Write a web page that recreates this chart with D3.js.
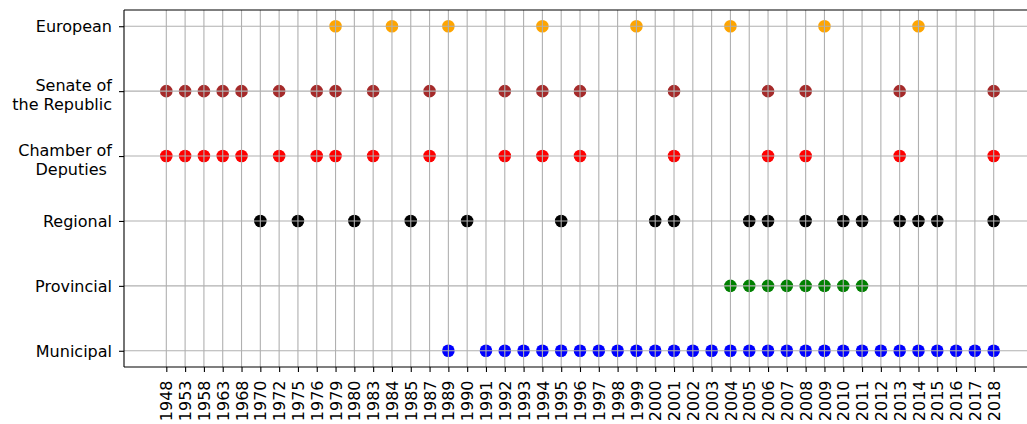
<!DOCTYPE html>
<html>
<head>
<meta charset="utf-8">
<script src="https://cdn.jsdelivr.net/npm/d3@7"></script>
<style>
  body { margin: 0; background: #fff; }
  text { font-family: "DejaVu Sans", sans-serif; font-size: 16px; fill: #000; }
</style>
</head>
<body>
<script>
// Ticks of the x axis (one category per election year)
var years = ["1948", "1953", "1958", "1963", "1968", "1970", "1972", "1975", "1976", "1979",
             "1980", "1983", "1984", "1985", "1987", "1989", "1990", "1991", "1992", "1993",
             "1994", "1995", "1996", "1997", "1998", "1999", "2000", "2001", "2002", "2003",
             "2004", "2005", "2006", "2007", "2008", "2009", "2010", "2011", "2012", "2013",
             "2014", "2015", "2016", "2017", "2018"]

// Rows, bottom to top
var tipos = ["Municipal", "Provincial", "Regional", "Chamber of\nDeputies\u00a0", "Senate of\nthe Republic", "European"]

// Years of each type of election
var municipal = ["1989", "1991", "1992", "1993", "1994", "1995", "1996", "1997", "1998", "1999",
                 "2000", "2001", "2002", "2003", "2004", "2005", "2006", "2007", "2008", "2009",
                 "2010", "2011", "2012", "2013", "2014", "2015", "2016", "2017", "2018"]
var provincial = ["2004", "2005", "2006", "2007", "2008", "2009", "2010", "2011"]
var regional = ["1970", "1975", "1980", "1985", "1990", "1995", "2000", "2001", "2005", "2006",
                "2008", "2010", "2011", "2013", "2014", "2015", "2018"]
var camera = ["1948", "1953", "1958", "1963", "1968", "1972", "1976", "1979", "1983", "1987",
              "1992", "1994", "1996", "2001", "2006", "2008", "2013", "2018"]
var senado = ["1948", "1953", "1958", "1963", "1968", "1972", "1976", "1979", "1983", "1987",
              "1992", "1994", "1996", "2001", "2006", "2008", "2013", "2018"]
var europeas = ["1979", "1984", "1989", "1994", "1999", "2004", "2009", "2014"]

var series = [municipal, provincial, regional, camera, senado, europeas]
var colores = ["blue", "green", "black", "red", "brown", "orange"]

//Dimensiones
var width = 1027
var height = 424
var margin = { top: 10, bottom: 57, left: 124, right: -9 }

var svg = d3.select("body").append("svg")
    .attr("width", width)
    .attr("height", height)

//Escalas
var escalaX = d3.scalePoint()
    .domain(years)
    .range([margin.left, width - margin.right])
    .padding(2.25)

var escalaY = d3.scalePoint()
    .domain(tipos)
    .range([height - margin.bottom, margin.top])
    .padding(0.25)

//Puntos
var puntos = []
series.forEach(function (s, i) {
    s.forEach(function (y) { puntos.push({ year: y, tipo: tipos[i], color: colores[i] }) })
})

svg.append("g").selectAll("circle")
    .data(puntos)
    .enter()
    .append("circle")
    .attr("cx", d => escalaX(d.year))
    .attr("cy", d => escalaY(d.tipo))
    .attr("r", 6.3)
    .attr("fill", d => d.color)

//Rejilla (por encima de los puntos)
var rejilla = svg.append("g").attr("stroke", "#b0b0b0").attr("stroke-width", 1.1)
rejilla.selectAll(".gx")
    .data(years)
    .enter()
    .append("line")
    .attr("x1", d => escalaX(d)).attr("x2", d => escalaX(d))
    .attr("y1", margin.top).attr("y2", height - margin.bottom)
rejilla.selectAll(".gy")
    .data(tipos)
    .enter()
    .append("line")
    .attr("x1", margin.left).attr("x2", width)
    .attr("y1", d => escalaY(d)).attr("y2", d => escalaY(d))

//Eje X
var ejeX = svg.append("g")
    .attr("transform", "translate(0," + (height - margin.bottom) + ")")
    .call(d3.axisBottom(escalaX).tickSizeInner(5).tickSizeOuter(0).tickPadding(7))
ejeX.select(".domain").remove()
ejeX.selectAll("line").attr("stroke-width", 1.1)
ejeX.selectAll("text")
    .attr("transform", "rotate(-90)")
    .attr("x", -13.5)
    .attr("y", 0)
    .attr("dy", "0.35em")
    .attr("text-anchor", "end")
    .style("font-size", "16px")
    .style("font-family", "DejaVu Sans")

//Eje Y
var ejeY = svg.append("g")
    .attr("transform", "translate(" + margin.left + ",0)")
    .call(d3.axisLeft(escalaY).tickSizeInner(5).tickSizeOuter(0).tickPadding(7).tickFormat(""))
ejeY.select(".domain").remove()
ejeY.selectAll("line").attr("stroke-width", 1.1)
ejeY.selectAll(".tick").each(function (d) {
    var lineas = d.split("\n")
    var ajuste = lineas.length > 1 ? 3.5 : 0
    var t = d3.select(this).append("text")
        .attr("x", -12)
        .attr("text-anchor", "end")
        .style("white-space", "pre")
        .style("font-size", "16px")
        .style("font-family", "DejaVu Sans")
        .attr("fill", "#000")
    lineas.forEach(function (l, i) {
        t.append("tspan")
            .attr("x", -12)
            .attr("y", (i - (lineas.length - 1) / 2) * 19.2 + ajuste)
            .attr("dy", "0.35em")
            .text(l)
    })
})

//Bordes
var bordes = svg.append("g").attr("stroke", "#000").attr("stroke-width", 1.1)
bordes.append("line").attr("x1", margin.left).attr("x2", margin.left).attr("y1", margin.top).attr("y2", height - margin.bottom)
bordes.append("line").attr("x1", margin.left).attr("x2", width).attr("y1", margin.top).attr("y2", margin.top)
bordes.append("line").attr("x1", margin.left).attr("x2", width).attr("y1", height - margin.bottom).attr("y2", height - margin.bottom)
</script>
</body>
</html>
